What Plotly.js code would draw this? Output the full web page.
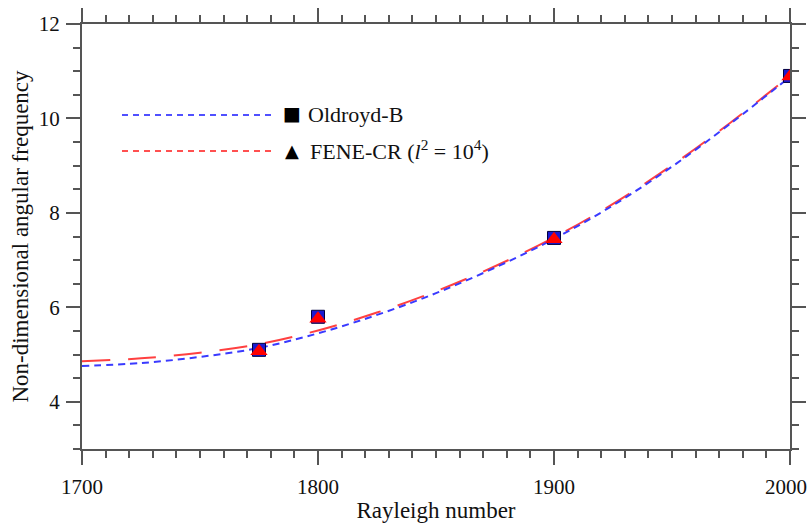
<!DOCTYPE html>
<html>
<head>
<meta charset="utf-8">
<script src="https://cdn.plot.ly/plotly-3.0.1.min.js"></script>
<style>html,body{margin:0;padding:0;background:#fff;}</style>
</head>
<body>
<div id="chart" style="width:809px;height:523px;"></div>
<script>
// Fitted curves
const curveX = [1700, 1725, 1750, 1775, 1800, 1825, 1850, 1875, 1900, 1925, 1950, 1975, 2000];
const oldroydCurve = [4.76, 4.82, 4.95, 5.14, 5.45, 5.84, 6.30, 6.84, 7.45, 8.16, 8.98, 9.90, 10.88];
const feneCurve    = [4.86, 4.92, 5.04, 5.22, 5.51, 5.89, 6.34, 6.87, 7.48, 8.19, 9.01, 9.92, 10.90];
// Data points
const pointX = [1775, 1800, 1900, 2000];
const oldroydPts = [5.10, 5.80, 7.47, 10.90];
const fenePts    = [5.07, 5.76, 7.44, 10.89];
// Tick labels
const xTickVals = [1700, 1800, 1900, 2000];
const xTickText = ['1700', '1800', '1900', '2000'];
const yTickVals = [4, 6, 8, 10, 12];
const yTickText = ['4', '6', '8', '10', '12'];

const serif = "'Liberation Serif', 'Times New Roman', serif";
const tickFont = {family: serif, size: 21, color: '#111'};

const traces = [
  {x: curveX, y: feneCurve, mode: 'lines', line: {shape: 'spline', smoothing: 1, color: '#ff4040', width: 2, dash: '28px,18px'}, showlegend: false, hoverinfo: 'skip'},
  {x: curveX, y: oldroydCurve, mode: 'lines', line: {shape: 'spline', smoothing: 1, color: '#3a3aff', width: 2, dash: '7px,5px'}, showlegend: false, hoverinfo: 'skip'},
  {x: pointX, y: oldroydPts, mode: 'markers', marker: {symbol: 'square', size: 13, color: '#1a1ad0', line: {color: '#000040', width: 1}}, showlegend: false},
  {x: pointX, y: fenePts, mode: 'markers', marker: {symbol: 'triangle-up', size: 15, color: '#ff0000', line: {width: 0}}, showlegend: false}
];

const axisCommon = {
  showline: true, linewidth: 2, linecolor: '#555', mirror: 'allticks',
  ticks: 'outside', ticklen: 14, tickwidth: 2, tickcolor: '#555',
  showgrid: false, zeroline: false,
  tickfont: tickFont
};

// last x tick label drawn as annotation so it can sit flush with the right edge
const lastIdx = xTickVals.length - 1;
const xTickTextShown = xTickText.map((t, i) => i === lastIdx ? '' : t);

const layout = {
  width: 809, height: 523,
  margin: {l: 82, r: 19, t: 24, b: 74},
  paper_bgcolor: '#fff', plot_bgcolor: '#fff',
  font: {family: serif},
  xaxis: Object.assign({}, axisCommon, {
    range: [1700, 2000], tickmode: 'array', tickvals: xTickVals, ticktext: xTickTextShown,
    minor: {dtick: 10, ticklen: 7, tickwidth: 2, tickcolor: '#555', ticks: 'outside'},
    ticklabelstandoff: 4,
    title: {text: 'Rayleigh number', font: {family: serif, size: 23, color: '#111'}, standoff: 4}
  }),
  yaxis: Object.assign({}, axisCommon, {
    range: [3, 12], tickmode: 'array', tickvals: yTickVals, ticktext: yTickText,
    minor: {dtick: 0.5, tick0: 0, ticklen: 7, tickwidth: 2, tickcolor: '#555', ticks: 'outside'},
    ticklabelstandoff: 2,
    title: {text: 'Non-dimensional angular frequency', font: {family: serif, size: 23, color: '#111'}, standoff: 4}
  }),
  shapes: [
    {type: 'line', xref: 'paper', yref: 'paper', x0: (122-82)/708, x1: (272-82)/708, y0: (449-115)/425, y1: (449-115)/425, line: {color: '#5050ff', width: 2, dash: '6px,5px'}},
    {type: 'line', xref: 'paper', yref: 'paper', x0: (122-82)/708, x1: (272-82)/708, y0: (449-151)/425, y1: (449-151)/425, line: {color: '#ff5050', width: 2, dash: '6px,5px'}}
  ],
  annotations: [
    {xref: 'x', yref: 'paper', x: xTickVals[lastIdx], y: 0, yshift: -24, xshift: 19, text: xTickText[lastIdx], showarrow: false, xanchor: 'right', yanchor: 'top', font: tickFont},
    {xref: 'paper', yref: 'paper', x: (292-82)/708, y: (449-113)/425, text: '■', showarrow: false, xanchor: 'center', yanchor: 'middle', font: {family: 'DejaVu Sans', size: 19, color: '#000'}},
    {xref: 'paper', yref: 'paper', x: (306-82)/708, y: (449-114)/425, text: 'Oldroyd-B', showarrow: false, xanchor: 'left', yanchor: 'middle', font: {family: serif, size: 22, color: '#111'}},
    {xref: 'paper', yref: 'paper', x: (292-82)/708, y: (449-150)/425, text: '▲', showarrow: false, xanchor: 'center', yanchor: 'middle', font: {family: 'DejaVu Sans', size: 18, color: '#000'}},
    {xref: 'paper', yref: 'paper', x: (308-82)/708, y: (449-150)/425, text: 'FENE-CR (<i>l</i><sup>2</sup> = 10<sup>4</sup>)', showarrow: false, xanchor: 'left', yanchor: 'middle', font: {family: serif, size: 22, color: '#111'}}
  ]
};

Plotly.newPlot('chart', traces, layout, {displayModeBar: false, staticPlot: true});
</script>
</body>
</html>
